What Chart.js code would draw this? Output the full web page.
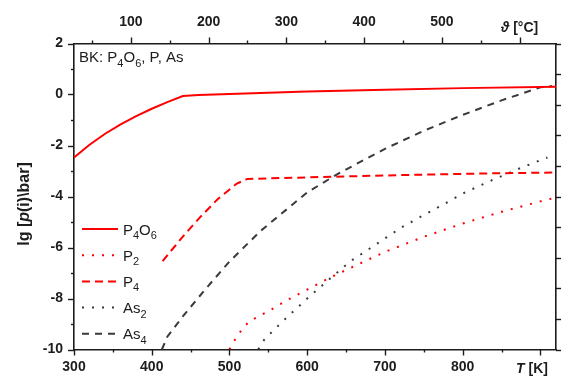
<!DOCTYPE html>
<html>
<head>
<meta charset="utf-8">
<script src="https://cdn.jsdelivr.net/npm/chart.js@4"></script>
<style>
  html, body { margin: 0; padding: 0; background: #fff; }
</style>
</head>
<body>
<canvas id="chart" width="562" height="376"></canvas>
<script>
// values (T in K, lg p in bar)
const tP4O6  = [300, 320, 340, 360, 380, 400, 420, 440, 460, 500, 600, 700, 800, 920];
const lgP4O6 = [-2.47, -1.97, -1.54, -1.17, -0.85, -0.56, -0.30, -0.06, -0.02, 0.02, 0.12, 0.19, 0.25, 0.30];

const tP2  = [500, 510, 525, 550, 575, 600, 630, 665, 700, 750, 800, 850, 900, 920];
const lgP2 = [-10, -9.45, -8.9, -8.5, -8.05, -7.65, -7.17, -6.67, -6.17, -5.58, -5.06, -4.6, -4.19, -4.04];

const tP4  = [414, 440, 462, 485, 509, 523, 600, 720, 820, 920];
const lgP4 = [-6.53, -5.57, -4.82, -4.1, -3.5, -3.31, -3.25, -3.16, -3.1, -3.06];

const tAs2  = [537, 545, 571, 600, 630, 655, 680, 702, 723, 768, 803, 837, 873, 909];
const lgAs2 = [-10, -9.6, -8.82, -8.0, -7.2, -6.55, -6.05, -5.6, -5.18, -4.43, -3.84, -3.37, -2.9, -2.47];

const tAs4  = [413, 420, 440, 470, 500, 540, 600, 640, 700, 750, 800, 850, 900, 915];
const lgAs4 = [-10, -9.5, -8.7, -7.6, -6.55, -5.35, -3.84, -3.1, -2.13, -1.42, -0.8, -0.23, 0.28, 0.33];

const kTicks = [300, 400, 500, 600, 700, 800];
const cTicks = [100, 200, 300, 400, 500];
const yTicks = [-10, -8, -6, -4, -2, 0, 2];

const INK = "#1c1c1c";
const RED = "#ff0000";
const GREY = "#3a3a3a";
const FONT = "'Liberation Sans', Arial, sans-serif";

const pts = (xs, ys) => xs.map((x, i) => ({ x: x, y: ys[i] }));

const series = [
  { name: [["P"], ["4", 1], ["O"], ["6", 1]], data: pts(tP4O6, lgP4O6), color: RED, dash: [] },
  { name: [["P"], ["2", 1]], data: pts(tP2, lgP2), color: RED, dash: [2, 8] },
  { name: [["P"], ["4", 1]], data: pts(tP4, lgP4), color: RED, dash: [8, 5] },
  { name: [["As"], ["2", 1]], data: pts(tAs2, lgAs2), color: GREY, dash: [2, 8] },
  { name: [["As"], ["4", 1]], data: pts(tAs4, lgAs4), color: GREY, dash: [7, 6] }
];

/* text with subscripts, drawn left to right */
function richText(ctx, parts, x, y, size, opts) {
  opts = opts || {};
  let cx = x;
  parts.forEach(p => {
    const sub = p[1] === 1;
    const ital = p[1] === 2;
    const fs = sub ? Math.round(size * 0.72) : size;
    ctx.font = (ital ? "italic " : "") + (opts.bold ? "bold " : "") + fs + "px " + FONT;
    ctx.fillText(p[0], cx, sub ? y + size * 0.3 : y);
    cx += ctx.measureText(p[0]).width;
  });
  return cx - x;
}

function measureRich(ctx, parts, size, opts) {
  ctx.save();
  const w = richText(ctx, parts, -9999, -9999, size, opts);
  ctx.restore();
  return w;
}

/* ticks, titles and the legend */
const decor = {
  id: "decor",
  afterDraw(chart) {
    const { ctx, chartArea: a, scales } = chart;
    ctx.save();
    ctx.strokeStyle = INK;
    ctx.lineWidth = 1.4;
    const seg = (x1, y1, x2, y2) => { ctx.beginPath(); ctx.moveTo(x1, y1); ctx.lineTo(x2, y2); ctx.stroke(); };

    for (let v = 300; v <= 900; v += 50) {
      const px = Math.round(scales.x.getPixelForValue(v)) + 0.5;
      seg(px, a.bottom, px, a.bottom + (v % 100 === 0 ? 6 : 3));
    }
    for (let v = 50; v <= 600; v += 50) {
      const px = Math.round(scales.x2.getPixelForValue(v)) + 0.5;
      seg(px, a.top, px, a.top - (v % 100 === 0 ? 6 : 3));
    }
    for (let v = -10; v <= 2; v += 1) {
      const py = Math.round(scales.y.getPixelForValue(v)) + 0.5;
      seg(a.left, py, a.left - (v % 2 === 0 ? 6 : 3), py);
    }
    for (let v = 0; v <= 10; v += 1) {
      const py = Math.round(scales.y2.getPixelForValue(v)) + 0.5;
      seg(a.right, py, a.right + 5, py);
    }

    ctx.fillStyle = INK;
    ctx.textBaseline = "alphabetic";

    // box label
    richText(ctx, [["BK: P"], ["4", 1], ["O"], ["6", 1], [", P, As"]], 79, 62, 15);

    // axis titles
    const thTitle = [["\u03d1", 2], [" [\u00b0C]"]];
    let w = measureRich(ctx, thTitle, 14, { bold: true });
    richText(ctx, thTitle, scales.x2.getPixelForValue(600) - w / 2, 32, 14, { bold: true });

    const tTitle = [["T", 2], [" [K]"]];
    w = measureRich(ctx, tTitle, 14, { bold: true });
    richText(ctx, tTitle, 532 - w / 2, 373, 14, { bold: true });

    const yTitle = [["lg ["], ["p", 2], ["(i)\\bar]"]];
    w = measureRich(ctx, yTitle, 16, { bold: true });
    ctx.save();
    ctx.translate(29, 204);
    ctx.rotate(-Math.PI / 2);
    richText(ctx, yTitle, -w / 2, 0, 16, { bold: true });
    ctx.restore();

    // legend
    series.forEach((s, i) => {
      const y = 229 + i * 26.2;
      ctx.save();
      ctx.strokeStyle = s.color;
      ctx.lineWidth = 2;
      ctx.setLineDash(s.dash);
      seg(82, y, 118, y);
      ctx.restore();
      ctx.fillStyle = INK;
      richText(ctx, s.name, 123, y + 5.5, 15);
    });

    ctx.restore();
  }
};

const fixed = (size) => (scale) => {
  if (scale.isHorizontal()) scale.height = size; else scale.width = size;
};

const tickFont = { family: FONT, size: 14, weight: "bold" };

new Chart(document.getElementById("chart"), {
  type: "line",
  data: {
    datasets: series.map(s => ({
      data: s.data,
      borderColor: s.color,
      borderWidth: 2,
      borderDash: s.dash,
      borderCapStyle: "butt",
      pointRadius: 0,
      fill: false,
      tension: 0,
      xAxisID: "x",
      yAxisID: "y"
    }))
  },
  options: {
    responsive: false,
    animation: false,
    layout: { padding: 0 },
    plugins: { legend: { display: false }, tooltip: { enabled: false } },
    scales: {
      x: {
        type: "linear", position: "bottom", min: 300, max: 920,
        afterBuildTicks: s => { s.ticks = kTicks.map(v => ({ value: v })); },
        afterFit: fixed(26.5),
        grid: { display: false, drawTicks: false },
        border: { display: true, color: INK, width: 1.6 },
        ticks: { font: tickFont, color: INK, padding: 9, maxRotation: 0 }
      },
      x2: {
        type: "linear", position: "top", min: 300 - 273.15, max: 920 - 273.15,
        afterBuildTicks: s => { s.ticks = cTicks.map(v => ({ value: v })); },
        afterFit: fixed(43.5),
        grid: { display: false, drawTicks: false },
        border: { display: true, color: INK, width: 1.6 },
        ticks: { font: tickFont, color: INK, padding: 13, maxRotation: 0 }
      },
      y: {
        type: "linear", position: "left", min: -10, max: 2,
        afterBuildTicks: s => { s.ticks = yTicks.map(v => ({ value: v })); },
        afterFit: fixed(74),
        grid: { display: false, drawTicks: false },
        border: { display: true, color: INK, width: 1.6 },
        ticks: { font: tickFont, color: INK, padding: 11 }
      },
      y2: {
        type: "linear", position: "right", min: 0, max: 10,
        afterFit: fixed(6),
        grid: { display: false, drawTicks: false },
        border: { display: true, color: INK, width: 1.6 },
        ticks: { display: false }
      }
    }
  },
  plugins: [decor]
});
</script>
</body>
</html>
